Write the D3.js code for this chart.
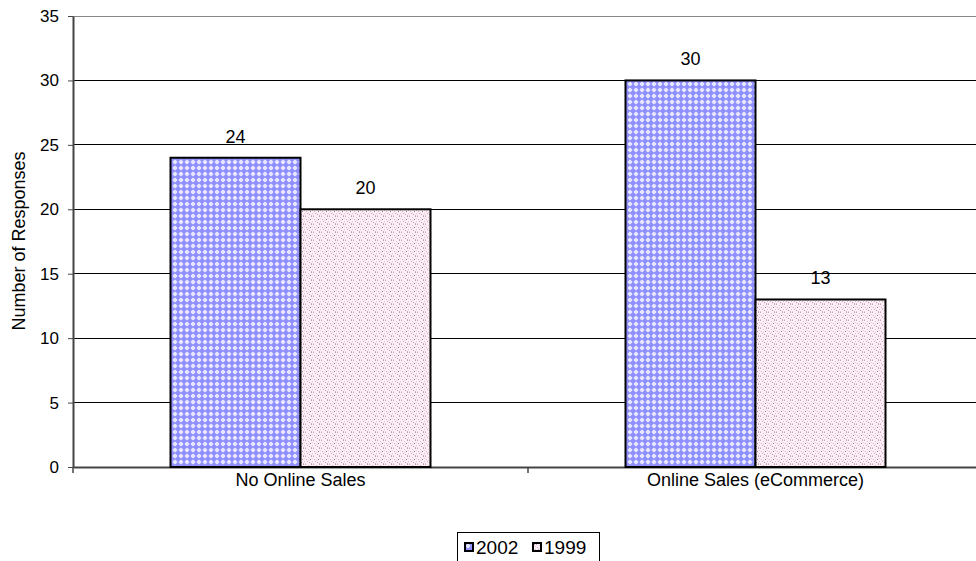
<!DOCTYPE html>
<html><head><meta charset="utf-8">
<script src="https://cdn.jsdelivr.net/npm/d3@7"></script>
<style>body{margin:0;background:#fff;}svg{display:block;font-family:"Liberation Sans",Arial,sans-serif;}</style>
</head><body><svg id="c" width="976" height="561"></svg>
<script>
const categories = ["No Online Sales", "Online Sales (eCommerce)"];
const seriesNames = ["2002", "1999"];
const values2002 = [24, 30];
const values1999 = [20, 13];
const yTicks = [0, 5, 10, 15, 20, 25, 30, 35];

const svg = d3.select("#c");
const defs = svg.append("defs");
// 2002 pattern: blue dotted grid
const p1 = defs.append("pattern").attr("id","p2002").attr("patternUnits","userSpaceOnUse").attr("width",6).attr("height",6);
p1.append("rect").attr("width",6).attr("height",6).attr("fill","#e6e6ff");
p1.append("rect").attr("x",1).attr("y",1).attr("width",4).attr("height",4).attr("fill","#ffffff");
p1.append("rect").attr("x",0).attr("y",2).attr("width",6).attr("height",2).attr("fill","#9a9aff");
p1.append("rect").attr("x",2).attr("y",0).attr("width",2).attr("height",6).attr("fill","#9a9aff");
p1.append("rect").attr("x",1).attr("y",1).attr("width",4).attr("height",4).attr("fill","#8c8cff").attr("opacity",0.8);
// 1999 pattern: pink speckle
const p2 = defs.append("pattern").attr("id","p1999").attr("patternUnits","userSpaceOnUse").attr("width",8).attr("height",8);
p2.append("rect").attr("width",8).attr("height",8).attr("fill","#fbf0f6");
const specks = [[0,0,"#d89ab8"],[3,1,"#e8b8d0"],[6,0,"#c896b4"],[1,3,"#e0a8c4"],[5,3,"#b07898"],[2,5,"#d8a0c0"],[7,5,"#e8b8d0"],[4,6,"#c88cac"],[0,7,"#e8c0d4"],[6,7,"#d8a8c0"],[3,4,"#f0d0e0"],[7,2,"#f0c8dc"]];
specks.forEach(s=>p2.append("rect").attr("x",s[0]).attr("y",s[1]).attr("width",1).attr("height",1).attr("fill",s[2]));

const pLeft = 73, pRight = 983, pTop = 16, pBottom = 467;
const x0 = d3.scaleBand().domain(categories).range([pLeft, pRight]);
const x1 = d3.scaleBand().domain(seriesNames).range([0, x0.bandwidth()]).paddingInner(0).paddingOuter(0.75);
const y = d3.scaleLinear().domain([0, 35]).range([pBottom, pTop]);

// gridlines
svg.append("g").selectAll("line").data(yTicks.filter(d=>d>0)).join("line")
  .attr("x1", pLeft).attr("x2", 976).attr("y1", d=>y(d)).attr("y2", d=>y(d))
  .attr("stroke", d=>d===35?"#888":"#000").attr("stroke-width",1).attr("shape-rendering","crispEdges");

// y axis
const yAxis = svg.append("g").attr("transform",`translate(${pLeft},0)`)
  .call(d3.axisLeft(y).tickValues(yTicks).tickSize(5).tickSizeOuter(0));
yAxis.attr("font-size",null).attr("font-family",null);
yAxis.select(".domain").attr("stroke","#444").attr("stroke-width",2);
yAxis.selectAll(".tick line").attr("stroke","#444");
yAxis.selectAll("text").style("font-size","17px").attr("fill","#000").attr("x",-14);

// x axis
const xAxis = svg.append("g").attr("transform",`translate(0,${pBottom})`)
  .call(d3.axisBottom(x0).tickSize(0).tickSizeOuter(0));
xAxis.attr("font-size",null).attr("font-family",null);
xAxis.select(".domain").attr("stroke","#444").attr("stroke-width",2);
xAxis.selectAll("text").style("font-size","18px").attr("fill","#000").attr("y",6);
svg.append("g").selectAll("line").data([pLeft, pLeft + x0.bandwidth(), pRight]).join("line")
  .attr("x1",d=>d).attr("x2",d=>d).attr("y1",pBottom).attr("y2",pBottom+6).attr("stroke","#444").attr("stroke-width",1.5);

// bars
const data = categories.map((c,i)=>({cat:c, vals:[{s:"2002",v:values2002[i]},{s:"1999",v:values1999[i]}]}));
const groups = svg.append("g").selectAll("g").data(data).join("g")
  .attr("transform", d=>`translate(${x0(d.cat)},0)`);
groups.selectAll("rect").data(d=>d.vals).join("rect")
  .attr("x", d=>x1(d.s)).attr("width", x1.bandwidth())
  .attr("y", d=>y(d.v)).attr("height", d=>y(0)-y(d.v))
  .attr("fill", d=>`url(#p${d.s})`).attr("stroke","#000").attr("stroke-width",2);
groups.selectAll("text").data(d=>d.vals).join("text")
  .attr("x", d=>x1(d.s)+x1.bandwidth()/2).attr("y", d=>y(d.v)-15)
  .attr("text-anchor","middle").style("font-size","18px").text(d=>d.v);

// y label
svg.append("text").attr("transform","translate(25,241) rotate(-90)").attr("text-anchor","middle")
  .style("font-size","18px").text("Number of Responses");

// legend
const lg = svg.append("g");
lg.append("rect").attr("x",457.5).attr("y",532.5).attr("width",142).attr("height",30).attr("fill","#fff").attr("stroke","#000");
const lx = d3.scaleOrdinal().domain(seriesNames).range([465, 533]);
seriesNames.forEach(s=>{
  lg.append("rect").attr("x",lx(s)).attr("y",543).attr("width",8).attr("height",8).attr("fill",`url(#p${s})`).attr("stroke","#000").attr("stroke-width",2);
  lg.append("text").attr("x",lx(s)+11).attr("y",554).style("font-size","19px").text(s);
});
</script></body></html>
